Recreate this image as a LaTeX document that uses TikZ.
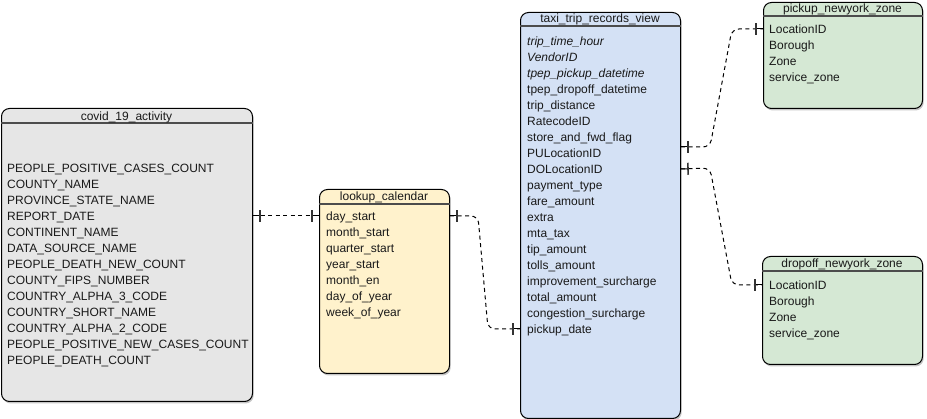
\documentclass[tikz,border=0pt]{standalone}
\usepackage{fontspec}
\setmainfont{Liberation Sans}
\usetikzlibrary{shadows,decorations.markings}
\definecolor{cvfill}{HTML}{E6E6E6}
\definecolor{lkfill}{HTML}{FFF2CC}
\definecolor{txfill}{HTML}{D4E1F5}
\definecolor{zfill}{HTML}{D5E8D4}
\begin{document}
\begin{tikzpicture}[x=1pt,y=-1pt,
  tbl/.style={draw=black, line width=1pt, rounded corners=8pt, inner sep=0pt, anchor=north west,
    drop shadow={shadow xshift=1.2pt, shadow yshift=-2pt, opacity=0.45}},
  txt/.style={inner sep=0pt, font=\fontsize{12}{14}\selectfont, text height=8.6pt, text depth=0pt, text=black!90},
  row/.style={txt, anchor=west},
  hdr/.style={txt, anchor=center},
  hline/.style={draw=black!70, line width=1.3pt},
  conn/.style={line width=1pt, dash pattern=on 4pt off 3.5pt, rounded corners=7pt,
    postaction={decorate},
    decoration={markings,
      mark=at position 7pt with {\draw[solid,line width=1pt] (-7pt,0) -- (0,0); \draw[solid,line width=1.6pt,black!80] (0,-6pt) -- (0,6pt);},
      mark=at position -7pt with {\draw[solid,line width=1pt] (0,0) -- (7pt,0); \draw[solid,line width=1.6pt,black!80] (0,-6pt) -- (0,6pt);}}}
]
\useasboundingbox (0,0) rectangle (927,419);

% tables
\node[tbl, fill=cvfill, minimum width=251pt, minimum height=293pt] (cv) at (1,108) {};
\node[tbl, fill=lkfill, minimum width=130pt, minimum height=184pt] (lk) at (319,189) {};
\node[tbl, fill=txfill, minimum width=160pt, minimum height=406pt] (tx) at (520,12) {};
\node[tbl, fill=zfill, minimum width=159pt, minimum height=106pt] (pk) at (763,2) {};
\node[tbl, fill=zfill, minimum width=160pt, minimum height=108pt] (dp) at (762,256) {};

% header lines
\draw[hline] ([yshift=-15pt]cv.north west) -- ([yshift=-15pt]cv.north east);
\draw[hline] ([yshift=-15pt]lk.north west) -- ([yshift=-15pt]lk.north east);
\draw[hline] ([yshift=-14pt]tx.north west) -- ([yshift=-14pt]tx.north east);
\draw[hline] ([yshift=-14pt]pk.north west) -- ([yshift=-14pt]pk.north east);
\draw[hline] ([yshift=-15pt]dp.north west) -- ([yshift=-15pt]dp.north east);

% headers
\node[hdr] (cvh) at (126.5,116) {covid\_19\_activity};
\node[hdr] (lkh) at (384,196.5) {lookup\_calendar};
\node[hdr] (txh) at (600,18.5) {taxi\_trip\_records\_view};
\node[hdr] (pkh) at (842.5,8.5) {pickup\_newyork\_zone};
\node[hdr] (dph) at (842,263.5) {dropoff\_newyork\_zone};

% covid rows
\foreach \t [count=\i from 0] in {PEOPLE\_POSITIVE\_CASES\_COUNT, COUNTY\_NAME, PROVINCE\_STATE\_NAME,
  REPORT\_DATE, CONTINENT\_NAME, DATA\_SOURCE\_NAME, PEOPLE\_DEATH\_NEW\_COUNT, COUNTY\_FIPS\_NUMBER,
  COUNTRY\_ALPHA\_3\_CODE, COUNTRY\_SHORT\_NAME, COUNTRY\_ALPHA\_2\_CODE,
  PEOPLE\_POSITIVE\_NEW\_CASES\_COUNT, PEOPLE\_DEATH\_COUNT}
  \node[row] (cv\i) at (7,168+16*\i) {\t};

% lookup rows
\foreach \t [count=\i from 0] in {day\_start, month\_start, quarter\_start, year\_start, month\_en, day\_of\_year, week\_of\_year}
  \node[row] (lk\i) at (326,216+16*\i) {\t};

% taxi rows
\foreach \t [count=\i from 0] in {\textit{trip\_time\_hour}, \textit{VendorID}, \textit{tpep\_pickup\_datetime},
  tpep\_dropoff\_datetime, trip\_distance, RatecodeID, store\_and\_fwd\_flag, PULocationID, DOLocationID,
  payment\_type, fare\_amount, extra, mta\_tax, tip\_amount, tolls\_amount, improvement\_surcharge,
  total\_amount, congestion\_surcharge, pickup\_date}
  \node[row] (tx\i) at (527,41+16*\i) {\t};

% zone rows
\foreach \t [count=\i from 0] in {LocationID, Borough, Zone, service\_zone}
  \node[row] (pk\i) at (769,29+16*\i) {\t};
\foreach \t [count=\i from 0] in {LocationID, Borough, Zone, service\_zone}
  \node[row] (dp\i) at (769,285+16*\i) {\t};

% bend points
\coordinate (b2a) at (478,216);
\coordinate (b2b) at (488,329);
\coordinate (b3a) at (710,147);
\coordinate (b3b) at (732,29);
\coordinate (b4a) at (710,168);
\coordinate (b4b) at (732,285);

% connectors
\draw[conn] (cv.east |- cv3) -- (lk.west |- lk0);
\draw[conn] (lk.east |- lk0) -- (b2a) -- (b2b) -- (tx.west |- tx18);
\draw[conn] (tx.east |- b3a) -- (b3a) -- (b3b) -- (pk.west |- pk0);
\draw[conn] (tx.east |- tx8) -- (b4a) -- (b4b) -- (dp.west |- dp0);
\end{tikzpicture}
\end{document}
